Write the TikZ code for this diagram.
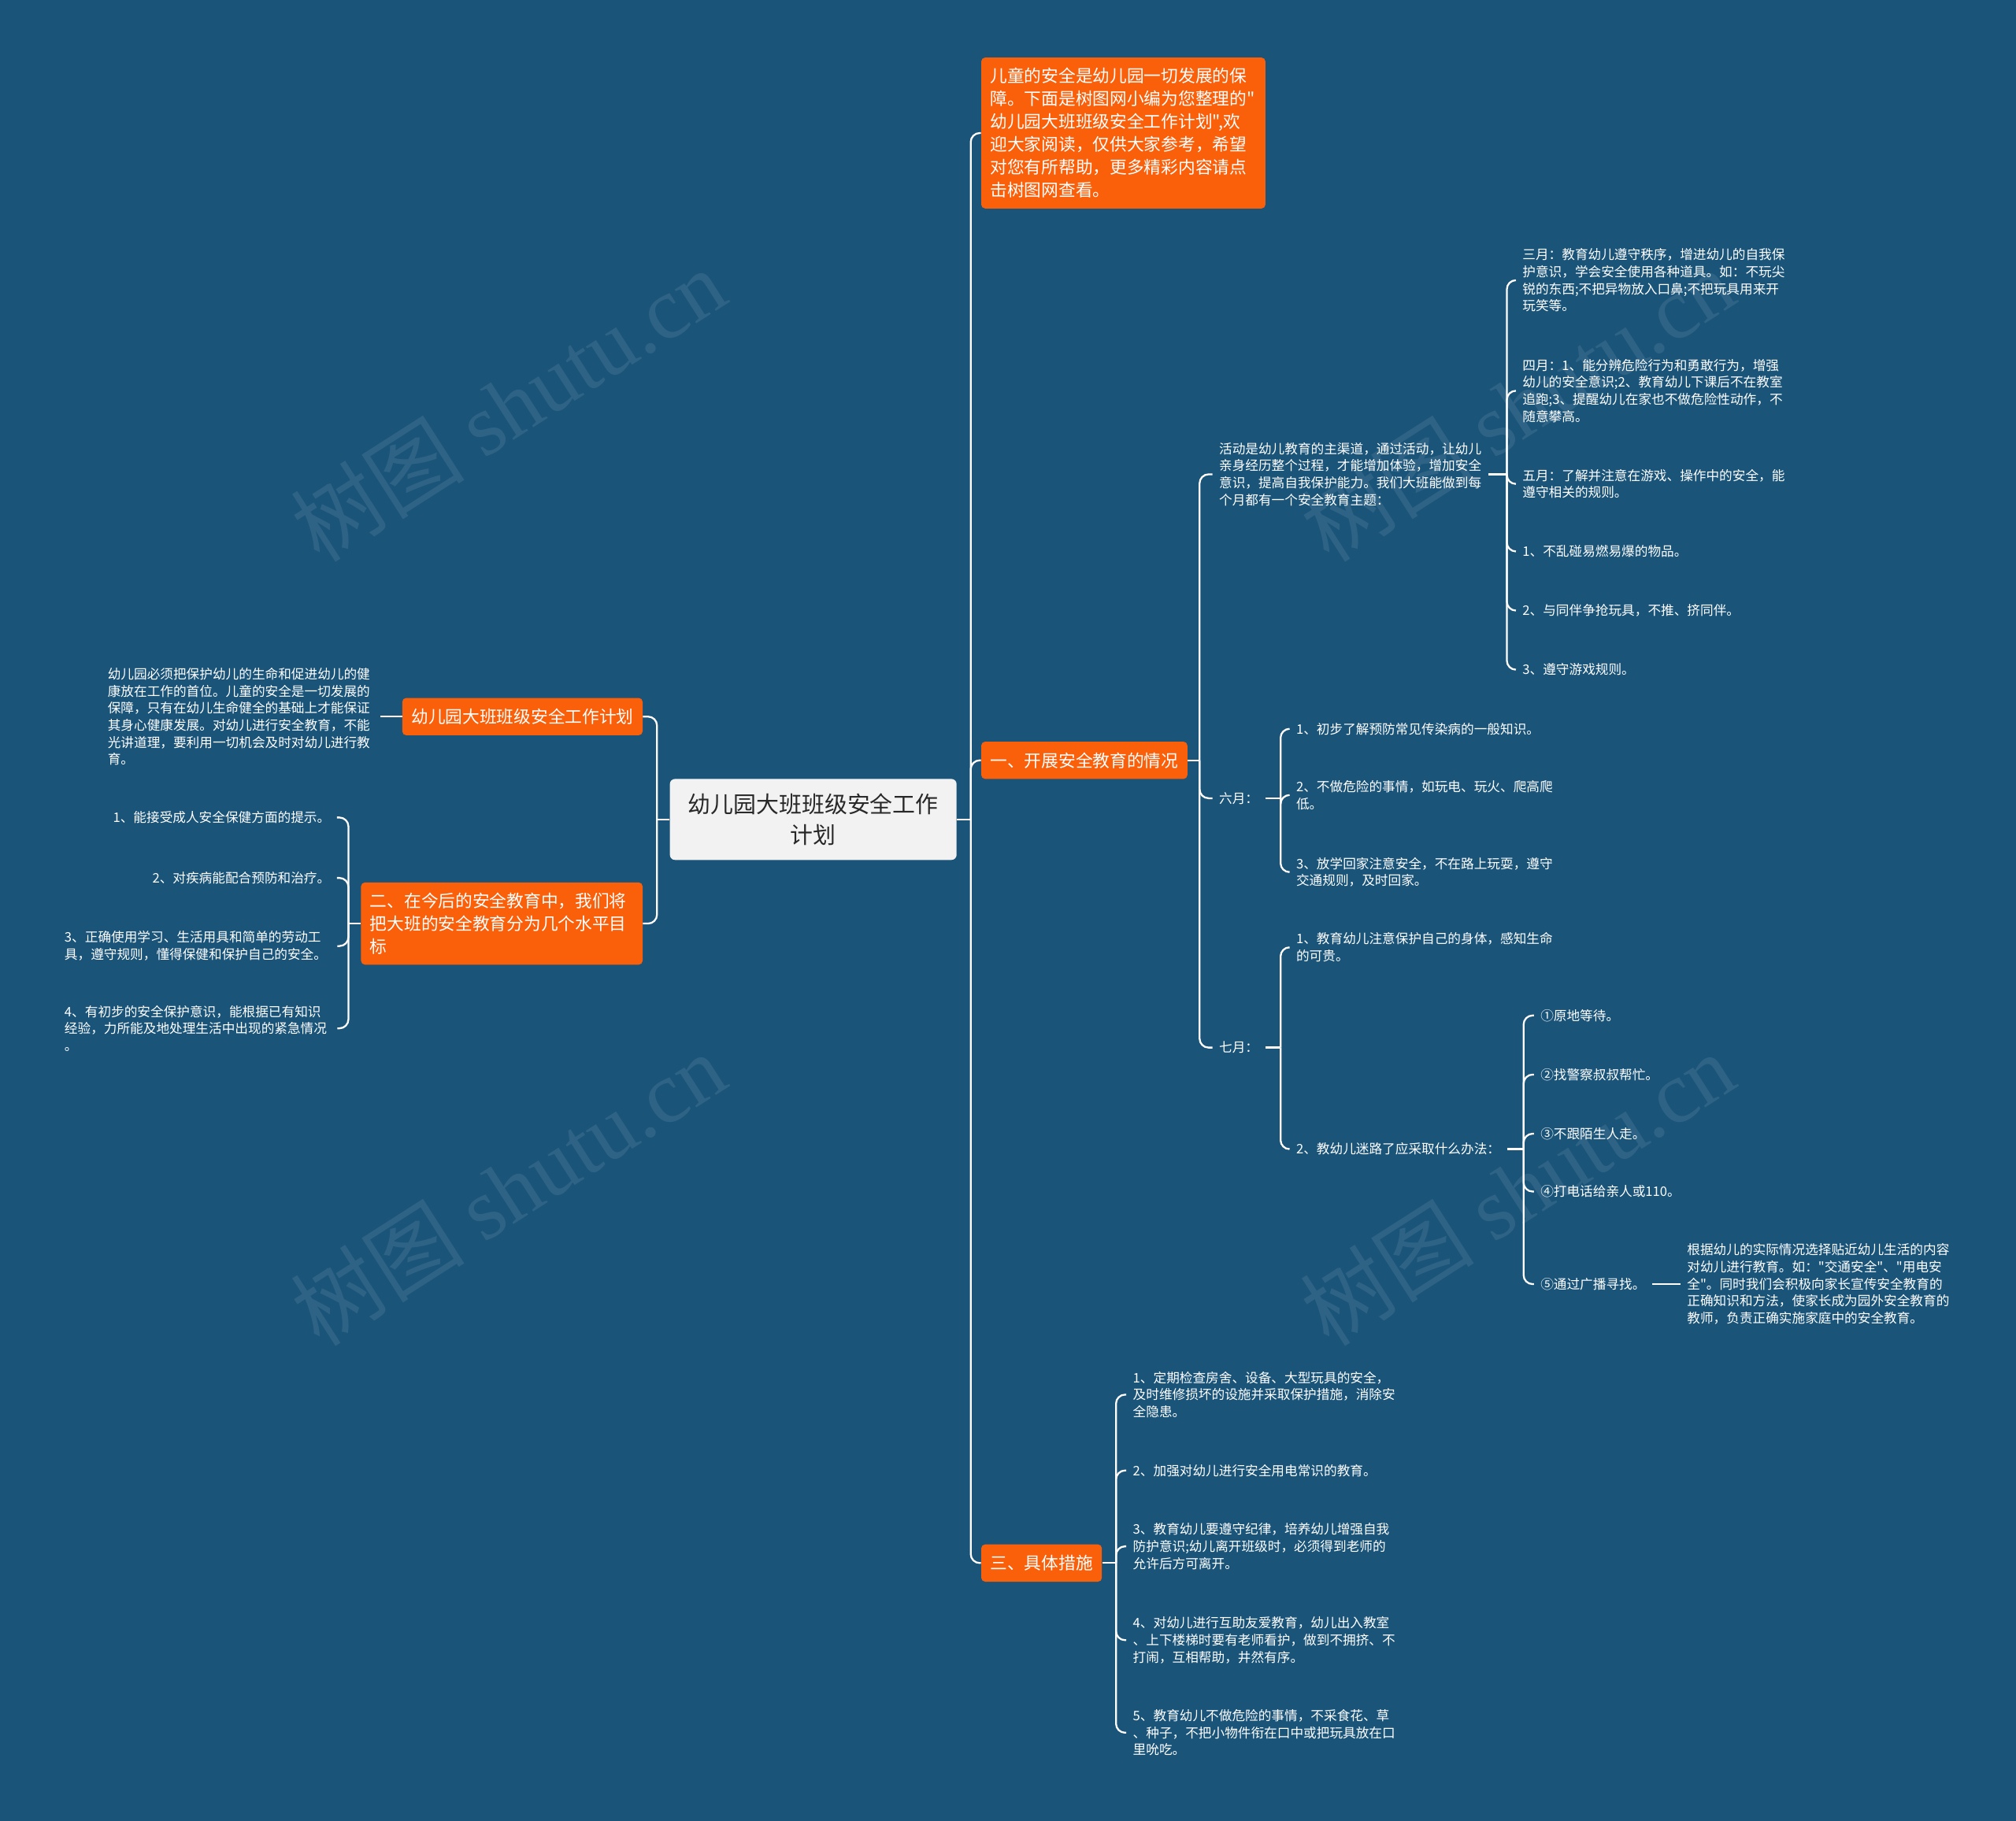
\documentclass[tikz,border=0pt]{standalone}
\usepackage{fontspec}
\setmainfont{Noto Sans CJK SC}
\newfontfamily\cjkfont{Noto Sans CJK SC}
\newfontfamily\wmserif{Liberation Serif}
\definecolor{bg}{RGB}{26,84,121}
\definecolor{org}{RGB}{250,95,10}
\definecolor{rootfill}{RGB}{242,242,242}
\definecolor{roottext}{RGB}{40,40,40}
\begin{document}
\begin{tikzpicture}[x=1pt,y=-1pt,
 conn/.style={draw=white,line width=1.4pt,rounded corners=7pt},
 stub/.style={draw=white,line width=1.4pt},
 txt/.style={text=white,font=\cjkfont\fontsize{10.2}{13.3}\selectfont,inner xsep=5pt,inner ysep=0pt,align=left},
 obox/.style={fill=org,rounded corners=3pt,text=white,font=\cjkfont\fontsize{13.3}{17.8}\selectfont,inner xsep=7pt,inner ysep=8pt,minimum height=29pt,align=left},
 rootbox/.style={fill=rootfill,rounded corners=4pt,text=roottext,font=\cjkfont\fontsize{17.7}{24}\selectfont,minimum width=223pt,minimum height=63pt,align=center,text width=205pt},
 wm/.style={text=white,opacity=0.09,font=\cjkfont\fontsize{68}{68}\selectfont,rotate=32.6}
]
\useasboundingbox (0,0) rectangle (1568,1416.7);
\fill[bg] (0,0) rectangle (1568,1416.7);
% watermarks
\node[wm] (wm1) at (395,315) {树图 {\wmserif shutu.cn}};
\node[wm] (wm2) at (395,925) {树图 {\wmserif shutu.cn}};
\node[wm] (wm3) at (1180,315) {树图 {\wmserif shutu.cn}};
\node[wm] (wm4) at (1180,925) {树图 {\wmserif shutu.cn}};

% root
\node[rootbox] (root) at (632.5,637.5) {幼儿园大班班级安全工作\\计划};

% right main branches
\node[obox,anchor=west,text width=207pt] (intro) at (763,103.5) {儿童的安全是幼儿园一切发展的保\\障。下面是树图网小编为您整理的"\\幼儿园大班班级安全工作计划",欢\\迎大家阅读，仅供大家参考，希望\\对您有所帮助，更多精彩内容请点\\击树图网查看。};
\node[obox,anchor=west] (one) at (763,591.5) {一、开展安全教育的情况};
\node[obox,anchor=west] (three) at (763,1216) {三、具体措施};

% left main branches
\node[obox,anchor=east] (plan) at (500,557.5) {幼儿园大班班级安全工作计划};
\node[obox,anchor=east,text width=205pt] (two) at (500,718.5) {二、在今后的安全教育中，我们将\\把大班的安全教育分为几个水平目\\标};

\node[txt,anchor=east,text width=207pt] (lefttext) at (296,557.5) {幼儿园必须把保护幼儿的生命和促进幼儿的健\\康放在工作的首位。儿童的安全是一切发展的\\保障，只有在幼儿生命健全的基础上才能保证\\其身心健康发展。对幼儿进行安全教育，不能\\光讲道理，要利用一切机会及时对幼儿进行教\\育。};

\node[txt,anchor=east] (t1) at (262,636) {1、能接受成人安全保健方面的提示。};
\node[txt,anchor=east] (t2) at (262,683) {2、对疾病能配合预防和治疗。};
\node[txt,anchor=west,text width=207pt] (t3) at (45,736) {3、正确使用学习、生活用具和简单的劳动工\\具，遵守规则，懂得保健和保护自己的安全。};
\node[txt,anchor=west,text width=207pt] (t4) at (45,800) {4、有初步的安全保护意识，能根据已有知识\\经验，力所能及地处理生活中出现的紧急情况\\。};

% branch one
\node[txt,anchor=west] (huodong) at (943,369) {活动是幼儿教育的主渠道，通过活动，让幼儿\\亲身经历整个过程，才能增加体验，增加安全\\意识，提高自我保护能力。我们大班能做到每\\个月都有一个安全教育主题：};
\node[txt,anchor=west] (jun) at (943,621) {六月：};
\node[txt,anchor=west] (jul) at (943,815) {七月：};

\node[txt,anchor=west] (m3) at (1179,218) {三月：教育幼儿遵守秩序，增进幼儿的自我保\\护意识，学会安全使用各种道具。如：不玩尖\\锐的东西;不把异物放入口鼻;不把玩具用来开\\玩笑等。};
\node[txt,anchor=west] (m4) at (1179,304) {四月：1、能分辨危险行为和勇敢行为，增强\\幼儿的安全意识;2、教育幼儿下课后不在教室\\追跑;3、提醒幼儿在家也不做危险性动作，不\\随意攀高。};
\node[txt,anchor=west] (m5) at (1179,376.5) {五月：了解并注意在游戏、操作中的安全，能\\遵守相关的规则。};
\node[txt,anchor=west] (a1) at (1179,429) {1、不乱碰易燃易爆的物品。};
\node[txt,anchor=west] (a2) at (1179,475) {2、与同伴争抢玩具，不推、挤同伴。};
\node[txt,anchor=west] (a3) at (1179,521) {3、遵守游戏规则。};

\node[txt,anchor=west] (j1) at (1003,567) {1、初步了解预防常见传染病的一般知识。};
\node[txt,anchor=west] (j2) at (1003,618.5) {2、不做危险的事情，如玩电、玩火、爬高爬\\低。};
\node[txt,anchor=west] (j3) at (1003,678.5) {3、放学回家注意安全，不在路上玩耍，遵守\\交通规则，及时回家。};

\node[txt,anchor=west] (l1) at (1003,737) {1、教育幼儿注意保护自己的身体，感知生命\\的可贵。};
\node[txt,anchor=west] (l2) at (1003,894) {2、教幼儿迷路了应采取什么办法：};

\node[txt,anchor=west] (w1) at (1193,790) {①原地等待。};
\node[txt,anchor=west] (w2) at (1193,836) {②找警察叔叔帮忙。};
\node[txt,anchor=west] (w3) at (1193,882) {③不跟陌生人走。};
\node[txt,anchor=west] (w4) at (1193,927) {④打电话给亲人或110。};
\node[txt,anchor=west] (w5) at (1193,999) {⑤通过广播寻找。};
\node[txt,anchor=west] (w5c) at (1307,999) {根据幼儿的实际情况选择贴近幼儿生活的内容\\对幼儿进行教育。如："交通安全"、"用电安\\全"。同时我们会积极向家长宣传安全教育的\\正确知识和方法，使家长成为园外安全教育的\\教师，负责正确实施家庭中的安全教育。};

% branch three
\node[txt,anchor=west] (c1) at (876,1085) {1、定期检查房舍、设备、大型玩具的安全，\\及时维修损坏的设施并采取保护措施，消除安\\全隐患。};
\node[txt,anchor=west] (c2) at (876,1144) {2、加强对幼儿进行安全用电常识的教育。};
\node[txt,anchor=west] (c3) at (876,1203) {3、教育幼儿要遵守纪律，培养幼儿增强自我\\防护意识;幼儿离开班级时，必须得到老师的\\允许后方可离开。};
\node[txt,anchor=west] (c4) at (876,1276) {4、对幼儿进行互助友爱教育，幼儿出入教室\\、上下楼梯时要有老师看护，做到不拥挤、不\\打闹，互相帮助，井然有序。};
\node[txt,anchor=west] (c5) at (876,1348) {5、教育幼儿不做危险的事情，不采食花、草\\、种子，不把小物件衔在口中或把玩具放在口\\里吮吃。};

% spine coordinates
\coordinate (rsp) at (755,637.5);
\coordinate (lsp) at (511,637.5);
\coordinate (tsp) at (271,718.5);
\coordinate (osp) at (933,591.5);
\coordinate (hsp) at (1172,369);
\coordinate (jsp) at (996,621);
\coordinate (ksp) at (996,815);
\coordinate (wsp) at (1185,894);
\coordinate (csp) at (868,1216);

% connectors
\draw[stub] (root.east) -- (rsp);
\draw[conn] (rsp) |- (intro.west);
\draw[conn] (rsp) |- (one.west);
\draw[conn] (rsp) |- (three.west);

\draw[stub] (root.west) -- (lsp);
\draw[conn] (lsp) |- (plan.east);
\draw[conn] (lsp) |- (two.east);

\draw[stub] (plan.west) -- (lefttext.east);

\draw[stub] (two.west) -- (tsp);
\draw[conn] (tsp) |- (t1.east);
\draw[conn] (tsp) |- (t2.east);
\draw[conn] (tsp) |- (t3.east);
\draw[conn] (tsp) |- (t4.east);

\draw[stub] (one.east) -- (osp);
\draw[conn] (osp) |- (huodong.west);
\draw[conn] (osp) |- (jun.west);
\draw[conn] (osp) |- (jul.west);

\draw[stub] (huodong.east) -- (hsp);
\draw[conn] (hsp) |- (m3.west);
\draw[conn] (hsp) |- (m4.west);
\draw[conn] (hsp) |- (m5.west);
\draw[conn] (hsp) |- (a1.west);
\draw[conn] (hsp) |- (a2.west);
\draw[conn] (hsp) |- (a3.west);

\draw[stub] (jun.east) -- (jsp);
\draw[conn] (jsp) |- (j1.west);
\draw[conn] (jsp) |- (j2.west);
\draw[conn] (jsp) |- (j3.west);

\draw[stub] (jul.east) -- (ksp);
\draw[conn] (ksp) |- (l1.west);
\draw[conn] (ksp) |- (l2.west);

\draw[stub] (l2.east) -- (wsp);
\draw[conn] (wsp) |- (w1.west);
\draw[conn] (wsp) |- (w2.west);
\draw[conn] (wsp) |- (w3.west);
\draw[conn] (wsp) |- (w4.west);
\draw[conn] (wsp) |- (w5.west);

\draw[stub] (w5.east) -- (w5c.west);

\draw[stub] (three.east) -- (csp);
\draw[conn] (csp) |- (c1.west);
\draw[conn] (csp) |- (c2.west);
\draw[conn] (csp) |- (c3.west);
\draw[conn] (csp) |- (c4.west);
\draw[conn] (csp) |- (c5.west);
\end{tikzpicture}
\end{document}
